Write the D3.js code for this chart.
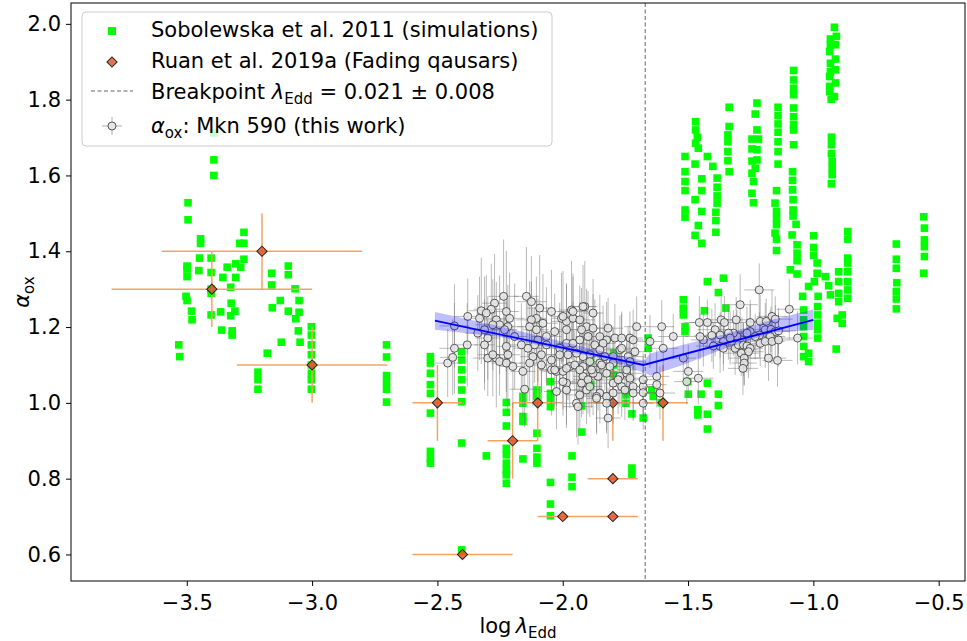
<!DOCTYPE html>
<html>
<head>
<meta charset="utf-8">
<script src="https://cdn.jsdelivr.net/npm/d3@7"></script>
<style>
  body { margin: 0; background: #fff; }
  svg text { font-family: "DejaVu Sans", sans-serif; fill: #000; }
</style>
</head>
<body>
<div id="chart"></div>
<script>
// Sobolewska et al. 2011 simulations [log lambda, alpha_ox]
const sobolewska = [
  [-3.392,1.712],[-3.392,1.641],[-3.392,1.600],[-3.495,1.528],[-3.495,1.483],[-3.272,1.450],[-3.445,1.433],[-3.445,1.421],
  [-3.289,1.421],[-3.272,1.421],[-3.449,1.382],[-3.403,1.382],[-3.272,1.379],[-3.499,1.361],[-3.499,1.353],[-3.452,1.349],
  [-3.339,1.358],[-3.305,1.367],[-3.285,1.358],[-3.095,1.361],[-3.499,1.333],[-3.403,1.344],[-3.356,1.331],[-3.305,1.331],
  [-3.161,1.342],[-3.095,1.338],[-3.161,1.311],[-3.325,1.305],[-3.068,1.301],[-3.403,1.289],[-3.403,1.300],[-3.503,1.281],
  [-3.499,1.270],[-3.127,1.270],[-3.052,1.270],[-3.323,1.263],[-3.159,1.251],[-3.481,1.242],[-3.479,1.219],[-3.403,1.232],
  [-3.365,1.240],[-3.325,1.230],[-3.308,1.242],[-3.095,1.242],[-3.052,1.239],[-3.065,1.222],[-3.361,1.192],[-3.319,1.190],
  [-3.319,1.179],[-3.055,1.190],[-3.123,1.160],[-3.048,1.160],
  [-3.003,1.201],[-3.003,1.179],[-3.003,1.153],[-3.003,1.127],[-3.003,1.100],[-3.003,1.078],[-3.003,1.061],[-3.003,1.036],
  [-3.179,1.131],[-3.532,1.153],[-3.528,1.122],[-3.216,1.081],[-3.216,1.061],[-3.216,1.036],
  [-2.703,1.153],[-2.703,1.121],[-2.703,1.072],[-2.703,1.054],[-2.703,1.036],[-2.703,1.002],
  [-2.528,1.122],[-2.528,1.105],[-2.528,1.078],[-2.528,1.048],[-2.528,1.025],[-2.528,0.973],[-2.528,0.872],[-2.528,0.854],[-2.528,0.841],
  [-2.403,1.135],[-2.403,1.113],[-2.403,1.087],[-2.403,1.061],[-2.403,1.034],[-2.403,1.003],[-2.403,0.894],[-2.403,0.612],
  [-2.305,0.860],
  [-2.225,1.001],[-2.225,0.975],[-2.225,0.939],[-2.225,0.880],[-2.225,0.863],[-2.225,0.841],[-2.225,0.823],[-2.225,0.810],[-2.225,0.788],
  [-2.159,1.017],[-2.159,0.999],[-2.159,0.964],[-2.159,0.951],[-2.159,0.852],
  [-2.103,1.034],[-2.103,1.017],[-2.103,0.920],[-2.103,0.880],[-2.103,0.857],[-2.103,0.841],
  [-2.049,1.056],[-2.049,1.025],[-2.049,1.008],[-2.049,0.990],[-2.049,0.790],[-2.049,0.733],[-2.049,0.702],
  [-1.963,0.860],[-1.963,0.804],[-1.963,0.779],[-1.924,0.992],[-1.924,0.923],[-1.889,1.113],[-1.889,1.048],
  [-1.796,1.131],[-1.796,1.100],[-1.796,1.074],[-1.745,1.087],[-1.748,1.021],[-1.748,0.999],
  [-1.724,0.971],[-1.724,0.828],[-1.724,0.810],[-1.679,0.960],[-1.659,1.171],[-1.659,1.144],[-1.645,1.034],[-1.639,1.017],[-1.607,1.000],
  [-1.519,1.272],[-1.519,1.250],[-1.519,1.232],[-1.512,1.201],[-1.512,1.188],
  [-1.501,1.056],[-1.499,1.023],[-1.448,1.023],[-1.379,1.023],[-1.379,0.993],[-1.461,0.982],[-1.461,0.968],[-1.423,0.970],
  [-1.423,0.931],[-1.423,1.052],[-1.435,1.243],[-1.423,1.320],[-1.359,1.329],[-1.379,1.291],[-1.349,1.250],
  [-1.470,1.742],[-1.470,1.720],[-1.463,1.701],[-1.470,1.685],[-1.459,1.672],
  [-1.512,1.650],[-1.512,1.610],[-1.512,1.584],[-1.512,1.560],[-1.512,1.509],[-1.512,1.490],
  [-1.472,1.630],[-1.472,1.536],[-1.445,1.591],[-1.445,1.560],[-1.445,1.505],[-1.459,1.468],[-1.472,1.442],[-1.445,1.421],
  [-1.423,1.650],[-1.401,1.624],
  [-1.384,1.593],[-1.384,1.569],[-1.384,1.546],[-1.384,1.527],[-1.389,1.503],[-1.389,1.481],[-1.389,1.450],
  [-1.336,1.780],[-1.336,1.729],[-1.341,1.707],[-1.341,1.689],[-1.341,1.663],[-1.341,1.639],[-1.336,1.610],
  [-1.225,1.791],[-1.232,1.762],[-1.225,1.720],[-1.245,1.696],[-1.219,1.696],[-1.245,1.670],[-1.225,1.668],[-1.245,1.638],
  [-1.225,1.641],[-1.232,1.619],[-1.245,1.606],[-1.239,1.584],[-1.245,1.553],[-1.239,1.528],
  [-1.141,1.780],[-1.141,1.758],[-1.141,1.736],[-1.141,1.714],[-1.141,1.689],[-1.141,1.663],[-1.141,1.630],
  [-1.147,1.560],[-1.153,1.527],[-1.147,1.505],[-1.147,1.487],[-1.147,1.470],[-1.153,1.448],[-1.147,1.432],[-1.147,1.402],
  [-1.079,1.877],[-1.079,1.852],[-1.079,1.830],[-1.079,1.813],[-1.079,1.778],[-1.079,1.755],[-1.079,1.734],[-1.079,1.720],[-1.079,1.681],
  [-1.083,1.610],[-1.083,1.587],[-1.083,1.562],[-1.081,1.536],[-1.081,1.509],[-1.081,1.493],[-1.069,1.471],[-1.085,1.443],
  [-1.065,1.417],[-1.065,1.395],[-1.065,1.375],[-1.092,1.351],[-1.065,1.340],
  [-0.916,1.991],[-0.908,1.967],[-0.932,1.960],[-0.912,1.945],[-0.932,1.945],[-0.935,1.927],[-0.912,1.907],[-0.932,1.896],
  [-0.912,1.879],[-0.932,1.874],[-0.935,1.861],[-0.912,1.844],[-0.935,1.835],[-0.935,1.821],[-0.916,1.808],[-0.929,1.801],
  [-0.928,1.701],[-0.928,1.681],[-0.928,1.657],[-0.925,1.637],[-0.925,1.619],[-0.925,1.602],[-0.928,1.578],
  [-0.999,1.441],[-0.999,1.410],[-0.999,1.389],[-0.985,1.369],[-0.985,1.342],[-0.996,1.320],[-1.019,1.307],[-1.043,1.281],
  [-0.981,1.281],[-0.952,1.333],[-0.939,1.309],[-0.932,1.285],[-0.899,1.346],[-0.899,1.320],[-0.899,1.289],[-0.899,1.267],
  [-0.863,1.452],[-0.863,1.432],[-0.863,1.382],[-0.863,1.369],[-0.863,1.346],[-0.863,1.320],[-0.863,1.298],[-0.863,1.276],
  [-0.669,1.419],[-0.669,1.379],[-0.669,1.355],[-0.667,1.317],[-0.669,1.294],[-0.669,1.274],[-0.669,1.248],
  [-0.560,1.491],[-0.557,1.461],[-0.557,1.430],[-0.557,1.412],[-0.557,1.386],[-0.560,1.342],
  [-1.039,1.245],[-1.039,1.219],[-1.039,1.201],[-1.039,1.175],[-1.039,1.149],[-1.039,1.122],[-1.019,1.131],[-1.019,1.109],
  [-0.983,1.254],[-0.983,1.232],[-0.983,1.210],[-0.983,1.193],[-0.983,1.171],
  [-0.905,1.223],[-0.885,1.232],[-0.885,1.210],[-0.909,1.142]
];

// Ruan et al. 2019a fading quasars
const ruanX    = [-3.4, -3.2, -3.0, -2.5, -2.2, -2.1, -1.8, -2.0, -1.8, -2.4, -1.8, -1.6];
const ruanY    = [ 1.3,  1.4,  1.1,  1.0,  0.9,  1.0,  0.8,  0.7,  0.7,  0.6,  1.0,  1.0];
const ruanXerr = [ 0.4,  0.4,  0.3,  0.1,  0.1,  0.1,  0.1,  0.1,  0.1,  0.2,  0.1,  0.1];
const ruanYerr = [ 0.1,  0.1,  0.1,  0.1,  0.1,  0.1,  0.0,  0.0,  0.0,  0.0,  0.1,  0.1];

// Mkn 590 [log lambda, alpha_ox, xerr, yerr]
const mkn590 = [
  [-2.379,1.228,0.05,0.10],[-2.432,1.144,0.06,0.12],[-2.459,1.105,0.05,0.09],[-2.381,1.153,0.04,0.11],
  [-2.236,1.281,0.06,0.15],[-2.272,1.263,0.05,0.13],[-2.285,1.247,0.07,0.12],[-2.325,1.243,0.05,0.14],
  [-2.305,1.237,0.04,0.10],[-2.332,1.223,0.06,0.11],[-2.225,1.241,0.05,0.16],[-2.212,1.223,0.06,0.12],
  [-2.265,1.219,0.05,0.10],[-2.252,1.206,0.04,0.13],[-2.219,1.201,0.06,0.11],[-2.232,1.193,0.05,0.09],
  [-2.279,1.206,0.07,0.12],[-2.339,1.184,0.05,0.10],[-2.312,1.193,0.06,0.14],[-2.299,1.171,0.05,0.11],
  [-2.312,1.153,0.04,0.12],[-2.299,1.118,0.06,0.10],[-2.265,1.118,0.05,0.13],[-2.252,1.109,0.05,0.09],
  [-2.279,1.127,0.06,0.11],[-2.225,1.149,0.04,0.12],[-2.219,1.127,0.05,0.15],[-2.225,1.105,0.06,0.10],
  [-2.199,1.096,0.05,0.11],[-2.159,1.083,0.05,0.12],[-2.152,1.036,0.06,0.10],[-2.145,1.281,0.05,0.13],
  [-2.125,1.267,0.06,0.12],[-2.092,1.250,0.05,0.14],[-2.105,1.223,0.04,0.11],[-2.125,1.219,0.06,0.10],
  [-2.132,1.201,0.05,0.12],[-2.105,1.193,0.05,0.09],[-2.079,1.210,0.06,0.13],[-2.045,1.241,0.05,0.11],
  [-2.005,1.223,0.04,0.12],[-1.985,1.215,0.06,0.10],[-1.965,1.245,0.05,0.13],[-1.959,1.223,0.05,0.11],
  [-1.932,1.219,0.06,0.09],[-1.912,1.254,0.05,0.12],[-1.905,1.201,0.04,0.10],[-1.925,1.193,0.06,0.11],
  [-1.985,1.193,0.05,0.12],[-2.032,1.188,0.05,0.10],[-2.065,1.175,0.06,0.13],[-2.099,1.166,0.05,0.11],
  [-2.112,1.153,0.04,0.10],[-2.139,1.144,0.06,0.12],[-2.165,1.153,0.05,0.11],[-2.192,1.175,0.05,0.14],
  [-2.065,1.153,0.06,0.10],[-2.012,1.144,0.05,0.12],[-1.985,1.157,0.04,0.09],[-1.959,1.157,0.06,0.11],
  [-1.932,1.166,0.05,0.10],[-1.899,1.175,0.05,0.12],[-1.879,1.197,0.06,0.09],[-1.852,1.175,0.05,0.11],
  [-1.825,1.166,0.04,0.10],[-1.819,1.197,0.06,0.08],[-1.839,1.157,0.05,0.10],[-1.872,1.153,0.05,0.12],
  [-1.892,1.127,0.06,0.09],[-1.919,1.122,0.05,0.11],[-1.945,1.131,0.04,0.10],[-1.979,1.127,0.06,0.12],
  [-2.012,1.127,0.05,0.09],[-2.045,1.113,0.05,0.11],[-2.085,1.127,0.06,0.10],[-2.119,1.122,0.05,0.13],
  [-2.132,1.105,0.04,0.10],[-2.085,1.100,0.06,0.11],[-2.045,1.087,0.05,0.12],[-2.025,1.083,0.05,0.09],
  [-1.999,1.083,0.06,0.10],[-1.972,1.096,0.05,0.11],[-1.952,1.100,0.04,0.09],[-1.919,1.096,0.06,0.10],
  [-1.892,1.109,0.05,0.08],[-1.852,1.105,0.05,0.10],[-1.832,1.122,0.06,0.09],[-1.799,1.122,0.05,0.08],
  [-1.772,1.140,0.04,0.09],[-1.739,1.122,0.06,0.08],[-1.732,1.171,0.05,0.07],[-1.705,1.201,0.05,0.08],
  [-1.792,1.171,0.06,0.09],[-1.765,1.171,0.05,0.07],[-1.719,1.166,0.04,0.08],[-1.852,1.140,0.06,0.10],
  [-1.799,1.105,0.05,0.09],[-1.772,1.070,0.05,0.08],[-1.745,1.078,0.06,0.09],[-1.732,1.065,0.05,0.07],
  [-1.765,1.043,0.04,0.08],[-1.719,1.043,0.06,0.09],[-1.799,1.052,0.05,0.08],[-1.825,1.078,0.05,0.10],
  [-1.859,1.070,0.06,0.09],[-1.879,1.078,0.05,0.11],[-1.919,1.070,0.04,0.10],[-1.925,1.052,0.06,0.09],
  [-1.985,1.052,0.05,0.11],[-2.025,1.030,0.05,0.10],[-1.905,1.034,0.06,0.09],[-1.852,1.026,0.05,0.08],
  [-1.825,1.017,0.04,0.09],[-1.865,1.017,0.06,0.10],[-1.945,0.999,0.05,0.09],[-1.799,1.026,0.05,0.08],
  [-1.719,1.026,0.06,0.07],[-1.679,1.043,0.05,0.08],[-1.679,0.999,0.04,0.07],[-2.432,1.203,0.06,0.11],
  [-2.439,1.120,0.05,0.10],[-1.999,1.228,0.05,0.12],[-1.959,1.241,0.06,0.10],[-1.919,1.254,0.05,0.11],
  [-1.879,1.237,0.04,0.09],[-1.712,1.135,0.05,0.08],[-1.765,1.144,0.06,0.09],[-1.732,1.109,0.05,0.08],
  [-1.745,1.087,0.04,0.07],[-1.812,1.096,0.06,0.09],[-1.845,1.100,0.05,0.08],[-1.885,1.087,0.05,0.10],
  [-1.899,1.061,0.06,0.09],[-1.932,1.087,0.05,0.10],[-1.985,1.091,0.04,0.11],[-2.032,1.087,0.06,0.10],
  [-1.999,1.056,0.05,0.09],[-1.985,1.034,0.05,0.10],[-1.932,1.021,0.06,0.09],[-1.892,1.043,0.05,0.08],
  [-1.825,0.999,0.05,0.08],[-1.865,1.012,0.04,0.09],[-1.939,0.990,0.06,0.10],[-1.819,0.960,0.05,0.08],
  [-1.779,1.061,0.05,0.09],[-1.752,1.034,0.06,0.08],
  [-1.652,1.162,0.05,0.07],[-1.599,1.144,0.06,0.06],[-1.605,1.201,0.05,0.07],[-1.559,1.175,0.06,0.06],
  [-1.625,1.070,0.05,0.07],[-1.625,1.048,0.04,0.06],[-1.612,1.026,0.06,0.07],[-1.519,1.118,0.05,0.06],
  [-1.499,1.083,0.06,0.07],[-1.505,1.056,0.05,0.06],[-1.459,1.065,0.06,0.07],[-1.455,1.212,0.06,0.07],
  [-1.423,1.212,0.07,0.06],[-1.439,1.166,0.05,0.07],[-1.452,1.175,0.06,0.06],[-1.392,1.193,0.07,0.07],
  [-1.368,1.219,0.06,0.06],[-1.355,1.212,0.05,0.07],[-1.372,1.179,0.06,0.06],[-1.405,1.178,0.07,0.07],
  [-1.308,1.219,0.06,0.06],[-1.292,1.259,0.07,0.08],[-1.216,1.298,0.06,0.07],[-1.252,1.212,0.07,0.06],
  [-1.212,1.215,0.06,0.07],[-1.188,1.215,0.05,0.06],[-1.165,1.228,0.06,0.07],[-1.152,1.221,0.07,0.06],
  [-1.192,1.193,0.06,0.07],[-1.169,1.194,0.05,0.06],[-1.152,1.188,0.06,0.07],[-1.139,1.190,0.07,0.06],
  [-1.172,1.175,0.06,0.07],[-1.215,1.179,0.05,0.06],[-1.252,1.188,0.06,0.07],[-1.232,1.175,0.07,0.06],
  [-1.265,1.184,0.06,0.07],[-1.285,1.166,0.05,0.06],[-1.305,1.175,0.06,0.07],[-1.319,1.184,0.07,0.06],
  [-1.339,1.184,0.06,0.07],[-1.359,1.162,0.05,0.06],[-1.372,1.149,0.06,0.07],[-1.359,1.144,0.07,0.06],
  [-1.312,1.144,0.06,0.07],[-1.299,1.153,0.05,0.06],[-1.279,1.140,0.06,0.07],[-1.279,1.153,0.07,0.06],
  [-1.265,1.150,0.06,0.07],[-1.252,1.144,0.05,0.06],[-1.259,1.135,0.06,0.07],[-1.288,1.131,0.07,0.06],
  [-1.276,1.118,0.06,0.07],[-1.276,1.105,0.05,0.06],[-1.281,1.091,0.06,0.07],[-1.212,1.157,0.07,0.06],
  [-1.192,1.162,0.06,0.07],[-1.165,1.162,0.05,0.06],[-1.139,1.166,0.06,0.07],[-1.179,1.118,0.07,0.06],
  [-1.143,1.112,0.06,0.07],[-1.096,1.247,0.05,0.08],[-1.063,1.171,0.06,0.07],[-1.399,1.150,0.07,0.06],
  [-1.332,1.171,0.06,0.07],[-1.679,1.061,0.05,0.07],[-1.679,1.027,0.05,0.06]
];

// broken-line fit and its confidence band
const fitX = [-2.51, -1.678, -1.0];
const fitY = [1.217, 1.100, 1.219];
const bandX  = [-2.51, -2.25, -1.85, -1.678, -1.65, -1.52, -1.36, -1.16, -1.0];
const bandLo = [1.193, 1.174, 1.118, 1.080, 1.072, 1.100, 1.142, 1.186, 1.192];
const bandHi = [1.240, 1.202, 1.137, 1.112, 1.130, 1.153, 1.180, 1.220, 1.246];
const breakpoint = -1.671;

const xTicks = [-3.5, -3.0, -2.5, -2.0, -1.5, -1.0, -0.5];
const yTicks = [0.6, 0.8, 1.0, 1.2, 1.4, 1.6, 1.8, 2.0];

const W = 967, H = 641;
const plotL = 71, plotR = 965, plotT = 3, plotB = 581;

const x = d3.scaleLinear().domain([-3.962, -0.395]).range([plotL, plotR]);
const y = d3.scaleLinear().domain([0.53, 2.055]).range([plotB, plotT]);

const svg = d3.select("#chart").append("svg")
  .attr("width", W).attr("height", H);

const minus = v => d3.format(".1f")(v).replace("-", "\u2212");

// green squares
svg.append("g").selectAll("rect")
  .data(sobolewska)
  .enter().append("rect")
  .attr("x", d => x(d[0]) - 3.8)
  .attr("y", d => y(d[1]) - 3.8)
  .attr("width", 7.6).attr("height", 7.6)
  .attr("fill", "#00ff00");

// Ruan error bars + diamonds
const ruan = ruanX.map((v, i) => ({ x: v, y: ruanY[i], xe: ruanXerr[i], ye: ruanYerr[i] }));
const rg = svg.append("g");
rg.selectAll("line.h").data(ruan).enter().append("line")
  .attr("x1", d => x(d.x - d.xe)).attr("x2", d => x(d.x + d.xe))
  .attr("y1", d => y(d.y)).attr("y2", d => y(d.y))
  .attr("stroke", "#f4a460").attr("stroke-width", 1.5);
rg.selectAll("line.v").data(ruan.filter(d => d.ye > 0)).enter().append("line")
  .attr("x1", d => x(d.x)).attr("x2", d => x(d.x))
  .attr("y1", d => y(d.y - d.ye)).attr("y2", d => y(d.y + d.ye))
  .attr("stroke", "#f4a460").attr("stroke-width", 1.5);
const diamond = d3.symbol(d3.symbolSquare, 52);
rg.selectAll("path").data(ruan).enter().append("path")
  .attr("d", diamond)
  .attr("transform", d => `translate(${x(d.x)},${y(d.y)}) rotate(45)`)
  .attr("fill", "#dc4f26").attr("fill-opacity", 0.8)
  .attr("stroke", "#222").attr("stroke-width", 1);

// Mkn 590 error bars and circles
const mg = svg.append("g");
mg.selectAll("line.h").data(mkn590).enter().append("line")
  .attr("x1", d => x(d[0] - d[2])).attr("x2", d => x(d[0] + d[2]))
  .attr("y1", d => y(d[1])).attr("y2", d => y(d[1]))
  .attr("stroke", "#777").attr("stroke-opacity", 0.5).attr("stroke-width", 1);
mg.selectAll("line.v").data(mkn590).enter().append("line")
  .attr("x1", d => x(d[0])).attr("x2", d => x(d[0]))
  .attr("y1", d => y(d[1] - d[3])).attr("y2", d => y(d[1] + d[3]))
  .attr("stroke", "#777").attr("stroke-opacity", 0.5).attr("stroke-width", 1);
mg.selectAll("circle").data(mkn590).enter().append("circle")
  .attr("cx", d => x(d[0])).attr("cy", d => y(d[1]))
  .attr("r", 4)
  .attr("fill", "#e6e6e6").attr("fill-opacity", 0.85)
  .attr("stroke", "#333").attr("stroke-width", 0.8);

// fit band + line
const band = bandX.map((v, i) => ({ x: v, lo: bandLo[i], hi: bandHi[i] }));
svg.append("path").datum(band)
  .attr("d", d3.area().x(d => x(d.x)).y0(d => y(d.lo)).y1(d => y(d.hi)))
  .attr("fill", "#0000ff").attr("fill-opacity", 0.25);
svg.append("path").datum(fitX.map((v, i) => [v, fitY[i]]))
  .attr("d", d3.line().x(d => x(d[0])).y(d => y(d[1])))
  .attr("fill", "none").attr("stroke", "#0000ff").attr("stroke-width", 1.8);

// breakpoint
svg.append("line")
  .attr("x1", x(breakpoint)).attr("x2", x(breakpoint))
  .attr("y1", plotT).attr("y2", plotB)
  .attr("stroke", "#666").attr("stroke-width", 1).attr("stroke-dasharray", "4,2.5");

// axes
const xAxis = svg.append("g").attr("transform", `translate(0,${plotB})`)
  .call(d3.axisBottom(x).tickValues(xTicks).tickFormat(minus).tickSize(5).tickPadding(5));
const yAxis = svg.append("g").attr("transform", `translate(${plotL},0)`)
  .call(d3.axisLeft(y).tickValues(yTicks).tickFormat(d3.format(".1f")).tickSize(5).tickPadding(5));
[xAxis, yAxis].forEach(a => {
  a.select(".domain").remove();
  a.selectAll("text").attr("font-size", 21).attr("font-family", "DejaVu Sans").attr("fill", "#000");
  a.selectAll("line").attr("stroke", "#000");
});
xAxis.selectAll("text").attr("dy", "0.9em");

svg.append("rect")
  .attr("x", plotL).attr("y", plotT)
  .attr("width", plotR - plotL).attr("height", plotB - plotT)
  .attr("fill", "none").attr("stroke", "#000").attr("stroke-width", 1);

// axis labels
const xl = svg.append("text").attr("x", 518).attr("y", 633).attr("text-anchor", "middle").attr("font-size", 21);
xl.append("tspan").text("log\u2009");
xl.append("tspan").attr("font-style", "italic").text("\u03bb");
xl.append("tspan").attr("font-size", 15).attr("dy", 5).text("Edd");

const yl = svg.append("text").attr("transform", "translate(29,292) rotate(-90)")
  .attr("text-anchor", "middle").attr("font-size", 21);
yl.append("tspan").attr("font-style", "italic").text("\u03b1");
yl.append("tspan").attr("font-size", 15).attr("dy", 5).text("ox");

// legend
const lg = svg.append("g");
lg.append("rect").attr("x", 82).attr("y", 12).attr("width", 470).attr("height", 134).attr("rx", 4)
  .attr("fill", "#fff").attr("fill-opacity", 0.8).attr("stroke", "#ccc").attr("stroke-width", 1);
lg.append("rect").attr("x", 108).attr("y", 27).attr("width", 8).attr("height", 8).attr("fill", "#00ff00");
lg.append("path").attr("d", diamond).attr("transform", "translate(112,62) rotate(45)")
  .attr("fill", "#dc4f26").attr("fill-opacity", 0.8).attr("stroke", "#222");
lg.append("line").attr("x1", 91).attr("x2", 133).attr("y1", 91).attr("y2", 91)
  .attr("stroke", "#666").attr("stroke-dasharray", "4,2.5");
lg.append("line").attr("x1", 102).attr("x2", 122).attr("y1", 126).attr("y2", 126).attr("stroke", "#777").attr("stroke-opacity", 0.6);
lg.append("line").attr("x1", 112).attr("x2", 112).attr("y1", 117).attr("y2", 135).attr("stroke", "#777").attr("stroke-opacity", 0.6);
lg.append("circle").attr("cx", 112).attr("cy", 126).attr("r", 4)
  .attr("fill", "#e6e6e6").attr("stroke", "#333").attr("stroke-width", 0.8);

const lt = (yy) => lg.append("text").attr("x", 151).attr("y", yy).attr("font-size", 21);
lt(37).text("Sobolewska et al. 2011 (simulations)");
lt(68).text("Ruan et al. 2019a (Fading qausars)");
const t3 = lt(99);
t3.append("tspan").text("Breakpoint ");
t3.append("tspan").attr("font-style", "italic").text("\u03bb");
t3.append("tspan").attr("font-size", 15).attr("dy", 5).text("Edd");
t3.append("tspan").attr("dy", -5).text(" = 0.021 \u00b1 0.008");
const t4 = lt(133);
t4.append("tspan").attr("font-style", "italic").text("\u03b1");
t4.append("tspan").attr("font-size", 15).attr("dy", 5).text("ox");
t4.append("tspan").attr("dy", -5).text(": Mkn 590 (this work)");
</script>
</body>
</html>
